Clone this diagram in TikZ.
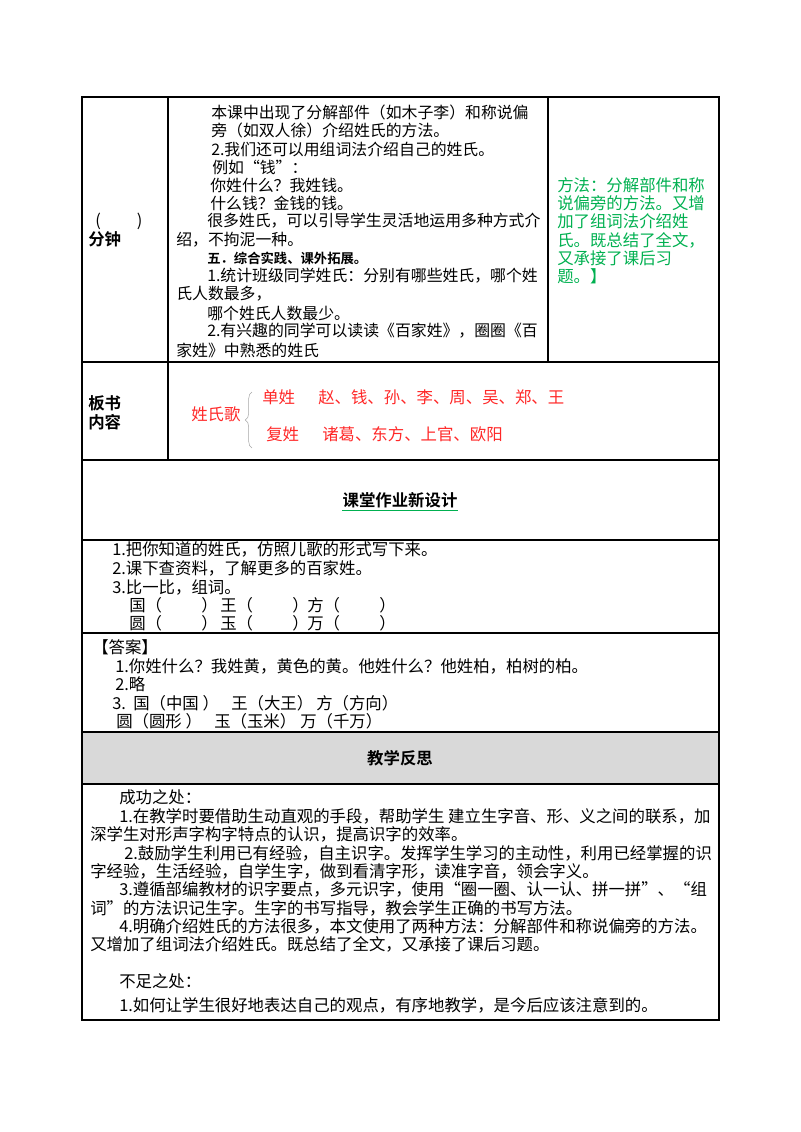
\documentclass[tikz,border=0pt]{standalone}
\usepackage{fontspec}
\setmainfont{Noto Sans CJK SC}
\newfontfamily\cjkb{Noto Sans CJK SC Bold}
\usetikzlibrary{decorations.pathreplacing}
\definecolor{grn}{RGB}{0,176,80}
\definecolor{rd}{RGB}{255,40,40}
\newcount\tcnt
\newcommand\T[4][]{\global\advance\tcnt by 1 \node[txt,#1] (t\the\tcnt) at (#2,#3) {#4};}
\tikzset{txt/.style={anchor=west,inner sep=0pt,font=\fontsize{12.3pt}{14pt}\selectfont},
sm/.style={font=\fontsize{11.9pt}{14pt}\selectfont},
bd/.style={font=\fontsize{12.3pt}{14pt}\cjkb},
grid/.style={line width=0.9pt}}
\begin{document}
\begin{tikzpicture}[x=0.75pt,y=-0.75pt]
\useasboundingbox (0,0) rectangle (800,1132);
\fill[gray!30] (82,732) rectangle (719,784);
\draw[grid] (82,97) rectangle (719,1020);
\foreach \y in {362,460,540,633,732,784} \draw[grid] (82,\y) -- (719,\y);
\draw[grid] (168,97) -- (168,460);
\draw[grid] (548,97) -- (548,362);
% row 1
\T{95}{221}{(\hspace{2.2em})}
\T[bd]{88}{239}{分钟}
\T[sm]{211}{112}{本课中出现了分解部件（如木子李）和称说偏}
\T[sm]{211}{130}{旁（如双人徐）介绍姓氏的方法。}
\T[sm]{211}{149}{2.我们还可以用组词法介绍自己的姓氏。}
\T[sm]{212}{167}{例如“钱”：}
\T[sm]{210}{185}{你姓什么？我姓钱。}
\T[sm]{210}{203}{什么钱？金钱的钱。}
\T[sm]{207}{221}{很多姓氏，可以引导学生灵活地运用多种方式介}
\T[sm]{176}{240}{绍，不拘泥一种。}
\T[bd,sm,font=\cjkb]{207}{258}{五．综合实践、课外拓展。}
\T[sm]{207}{276}{1.统计班级同学姓氏：分别有哪些姓氏，哪个姓}
\T[sm]{176}{294}{氏人数最多，}
\T[sm]{207}{313}{哪个姓氏人数最少。}
\T[sm]{207}{331}{2.有兴趣的同学可以读读《百家姓》，圈圈《百}
\T[sm]{176}{350}{家姓》中熟悉的姓氏}
\T[text=grn]{557}{185}{方法：分解部件和称}
\T[text=grn]{557}{203}{说偏旁的方法。又增}
\T[text=grn]{557}{221}{加了组词法介绍姓}
\T[text=grn]{557}{240}{氏。既总结了全文，}
\T[text=grn]{557}{258}{又承接了课后习}
\T[text=grn]{557}{276}{题。】}
% row 2
\T[bd]{88}{403}{板书}
\T[bd]{88}{422}{内容}
\T[text=rd]{191}{414}{姓氏歌}
\draw[decorate,decoration={brace,amplitude=5pt},gray!70] (252,448) -- (252,392);
\T[text=rd]{262}{397}{单姓}
\T[text=rd]{318}{397}{赵、钱、孙、李、周、吴、郑、王}
\T[text=rd]{266}{434}{复姓}
\T[text=rd]{322}{434}{诸葛、东方、上官、欧阳}
% title
\node[bd,inner sep=0pt] (h1) at (400,500) {课堂作业新设计};
\draw[grn,line width=0.8pt] ([yshift=-2]h1.south west) -- ([yshift=-2]h1.south east);
% homework
\T{112}{549}{1.把你知道的姓氏，仿照儿歌的形式写下来。}
\T{112}{568}{2.课下查资料，了解更多的百家姓。}
\T{112}{587}{3.比一比，组词。}
\T{129}{605}{国（\hspace{2.4em}）}
\T{220}{605}{王（\hspace{2.4em}）}
\T{307}{605}{方（\hspace{2.4em}）}
\T{129}{623}{圆（\hspace{2.4em}）}
\T{220}{623}{玉（\hspace{2.4em}）}
\T{307}{623}{万（\hspace{2.4em}）}
\T{92}{647}{【答案】}
\T{115}{666}{1.你姓什么？我姓黄，黄色的黄。他姓什么？他姓柏，柏树的柏。}
\T{115}{684}{2.略}
\T{112}{703}{3.\ \ 国（中国 ）}
\T{231}{703}{王（大王）}
\T{316}{703}{方（方向）}
\T{116}{721}{圆（圆形 ）}
\T{214}{721}{玉（玉米）}
\T{300}{721}{万（千万）}
\node[bd,inner sep=0pt] (h2) at (400,758) {教学反思};
% reflection
\T{119}{797}{成功之处：}
\T{119}{816}{1.在教学时要借助生动直观的手段，帮助学生 建立生字音、形、义之间的联系，加}
\T{90}{834}{深学生对形声字构字特点的认识，提高识字的效率。}
\T{124}{853}{2.鼓励学生利用已有经验，自主识字。发挥学生学习的主动性，利用已经掌握的识}
\T{90}{871}{字经验，生活经验，自学生字，做到看清字形，读准字音，领会字义。}
\T{119}{889}{3.遵循部编教材的识字要点，多元识字，使用“圈一圈、认一认、拼一拼”、“组}
\T{90}{908}{词”的方法识记生字。生字的书写指导，教会学生正确的书写方法。}
\T{119}{926}{4.明确介绍姓氏的方法很多，本文使用了两种方法：分解部件和称说偏旁的方法。}
\T{90}{944}{又增加了组词法介绍姓氏。既总结了全文，又承接了课后习题。}
\T{119}{981}{不足之处：}
\T{119}{1005}{1.如何让学生很好地表达自己的观点，有序地教学，是今后应该注意到的。}
\end{tikzpicture}
\end{document}
